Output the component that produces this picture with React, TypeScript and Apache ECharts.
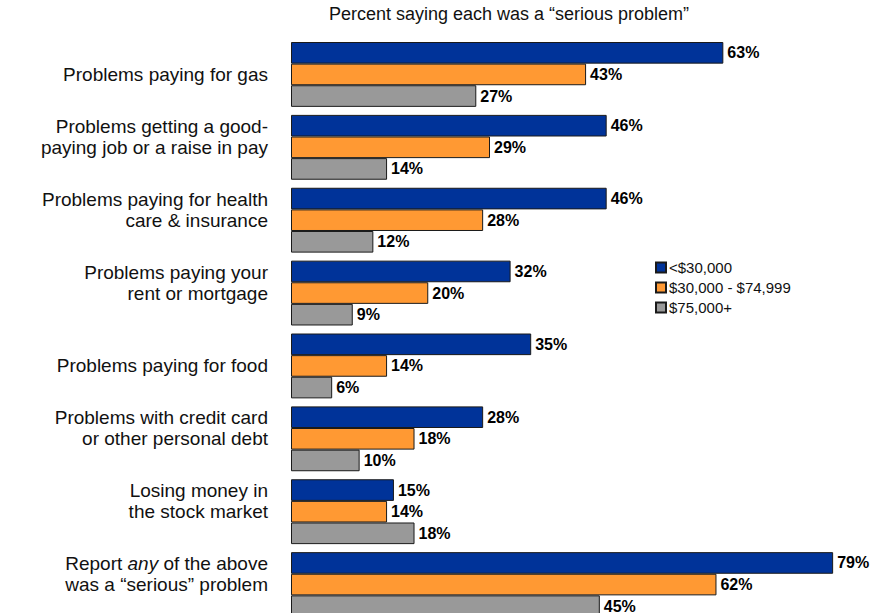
import React, { useEffect, useRef } from "react";
import * as echarts from "echarts";

const categories = [
  "Problems paying for gas",
  "Problems getting a good-\npaying job or a raise in pay",
  "Problems paying for health\ncare & insurance",
  "Problems paying your\nrent or mortgage",
  "Problems paying for food",
  "Problems with credit card\nor other personal debt",
  "Losing money in\nthe stock market",
  "Report {i|any} of the above\nwas a “serious” problem",
];
const seriesNames = ["<$30,000", "$30,000 - $74,999", "$75,000+"];
const low = [63, 46, 46, 32, 35, 28, 15, 79];
const mid = [43, 29, 28, 20, 14, 18, 14, 62];
const high = [27, 14, 12, 9, 6, 10, 18, 45];
const colors = ["#003399", "#FF9933", "#999999"];
const titleText = "Percent saying each was a “serious problem”";

export default function App() {
  const ref = useRef<HTMLDivElement>(null);
  useEffect(() => {
    if (!ref.current) return;
    const chart = echarts.init(ref.current, null, { renderer: "svg" });
    const font = "'Liberation Sans', Arial, sans-serif";
    const data = [low, mid, high];
    chart.setOption({
      animation: false,
      title: {
        text: titleText,
        left: 504,
        top: 0,
        textAlign: "center",
        textStyle: { fontFamily: font, fontSize: 18, fontWeight: "normal", color: "#111" },
      },
      legend: {
        orient: "vertical",
        left: 650,
        top: 255,
        itemWidth: 10,
        itemHeight: 10,
        itemGap: 5,
        icon: "rect",
        textStyle: { fontFamily: font, fontSize: 15, lineHeight: 15, color: "#111", padding: [0, 0, 0, -2] },
        data: seriesNames,
      },
      grid: { left: 291, top: 38, width: 549, height: 583, containLabel: false },
      xAxis: {
        type: "value",
        min: 0,
        max: 80,
        show: false,
      },
      yAxis: {
        type: "category",
        inverse: true,
        data: categories,
        axisLine: { show: false },
        axisTick: { show: false },
        axisLabel: {
          margin: 23,
          fontFamily: font,
          fontSize: 19,
          color: "#111",
          lineHeight: 21,
          align: "right",
          formatter: (v: string) => (v.indexOf("\n") >= 0 ? v + "\n " : v),
          rich: {
            i: { fontFamily: font, fontSize: 19, fontStyle: "italic", color: "#111", lineHeight: 21 },
          },
        },
      },
      series: seriesNames.map((name, k) => ({
        name,
        type: "bar",
        data: data[k],
        barGap: "0%",
        barCategoryGap: "11%",
        itemStyle: { color: colors[k], borderColor: "#1a1a1a", borderWidth: 1 },
        label: {
          show: true,
          position: "right",
          distance: 4,
          formatter: "{c}%",
          fontFamily: font,
          fontSize: 16,
          fontWeight: "bold",
          color: "#000",
        },
      })),
    });
    return () => chart.dispose();
  }, []);
  return (
    <div style={{ position: "absolute", left: 0, top: 0, width: 883, height: 613, overflow: "hidden", background: "#fff" }}>
      <div ref={ref} style={{ width: 883, height: 640 }} />
    </div>
  );
}
